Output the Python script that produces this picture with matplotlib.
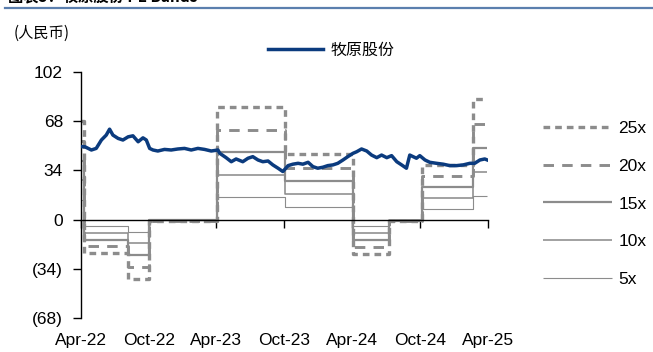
import matplotlib
matplotlib.use('Agg')
import matplotlib.pyplot as plt
import matplotlib.dates as mdates
from matplotlib.lines import Line2D
import pandas as pd

plt.rcParams['font.family'] = ['Liberation Sans', 'Noto Sans CJK SC', 'DejaVu Sans']

# ---------------- data ----------------
price_dates = [
    '2022-04-01', '2022-04-11', '2022-04-29', '2022-05-12', '2022-05-26', '2022-06-08',
    '2022-06-17', '2022-06-26', '2022-07-10', '2022-07-23', '2022-08-06', '2022-08-19',
    '2022-09-02', '2022-09-15', '2022-09-24', '2022-10-03', '2022-10-12', '2022-10-25',
    '2022-11-12', '2022-11-30', '2022-12-18', '2023-01-05', '2023-01-23', '2023-02-10',
    '2023-02-28', '2023-03-18', '2023-04-05', '2023-04-10', '2023-04-27', '2023-05-11',
    '2023-05-24', '2023-06-11', '2023-06-25', '2023-07-08', '2023-07-22', '2023-08-04',
    '2023-08-18', '2023-08-31', '2023-09-14', '2023-09-27', '2023-10-11', '2023-10-24',
    '2023-11-07', '2023-11-20', '2023-12-04', '2023-12-17', '2023-12-30', '2024-01-13',
    '2024-01-26', '2024-02-09', '2024-02-22', '2024-03-07', '2024-03-20', '2024-04-03',
    '2024-04-13', '2024-04-26', '2024-05-10', '2024-05-23', '2024-06-06', '2024-06-19',
    '2024-07-03', '2024-07-16', '2024-07-30', '2024-08-12', '2024-08-25', '2024-09-03',
    '2024-09-12', '2024-09-21', '2024-09-30', '2024-10-14', '2024-10-27', '2024-11-14',
    '2024-12-02', '2024-12-20', '2025-01-07', '2025-01-25', '2025-02-12', '2025-02-25',
    '2025-03-11', '2025-03-24', '2025-03-31',
]
price_values = [
    50.4, 50.4, 48.1, 49.2, 55.0, 58.4,
    62.5, 58.4, 56.1, 55.0, 57.2, 57.9,
    53.8, 56.5, 55.0, 49.2, 48.1, 47.4,
    48.5, 48.1, 48.8, 49.2, 48.1, 49.2,
    48.5, 47.4, 48.1, 45.8, 42.8, 40.0,
    41.9, 40.0, 42.4, 43.5, 41.2, 40.0,
    40.5, 37.8, 35.5, 33.2, 37.3, 38.3,
    38.9, 38.3, 39.6, 36.6, 35.5, 36.2,
    37.3, 37.8, 38.9, 41.2, 43.5, 45.8,
    46.9, 48.8, 47.4, 44.6, 42.8, 44.6,
    42.8, 44.2, 40.0, 37.8, 35.5, 44.6,
    43.5, 42.4, 44.2, 41.2, 39.6, 38.9,
    38.3, 37.3, 37.3, 37.8, 38.9, 38.9,
    41.2, 41.9, 41.2,
]

# EPS (RMB/share) per reporting period, start dates of each period
eps_dates = ['2022-04-01', '2022-04-08', '2022-08-06', '2022-10-02', '2023-04-02',
             '2023-10-03', '2024-04-04', '2024-07-09', '2024-10-05', '2025-02-21']
eps_values = [2.72, -0.92, -1.65, -0.04, 3.10, 1.80, -0.95, -0.05, 1.52, 3.32]
band_end = '2025-03-31'

multiples = [25, 20, 15, 10, 5]
band_labels = ['25x', '20x', '15x', '10x', '5x']
series_label = '牧原股份'

y_ticks = [-68, -34, 0, 34, 68, 102]
y_tick_labels = ['(68)', '(34)', '0', '34', '68', '102']
x_tick_dates = ['2022-04-01', '2022-10-01', '2023-04-01', '2023-10-01',
                '2024-04-01', '2024-10-01', '2025-04-01']
x_tick_labels = ['Apr-22', 'Oct-22', 'Apr-23', 'Oct-23', 'Apr-24', 'Oct-24', 'Apr-25']

title_text = '图表5：牧原股份 PE Bands'
unit_text = '(人民币)'

# ---------------- styles ----------------
W, H = 653, 352
GRAY = '#8c8c8c'
BLUE = '#0b3b7e'
band_styles = {
    25: dict(lw=2.4, dashes=(2.0, 1.5)),
    20: dict(lw=2.1, dashes=(3.6, 2.8)),
    15: dict(lw=1.6, dashes=None),
    10: dict(lw=1.15, dashes=None),
    5: dict(lw=0.8, dashes=None),
}

fig = plt.figure(figsize=(W / 100, H / 100), dpi=100)
ax = fig.add_axes([81 / W, 1 - 318 / H, (487.7 - 81) / W, (318 - 72) / H])

def to_num(lst):
    return mdates.date2num(pd.to_datetime(lst))

bx = to_num(eps_dates + [band_end])
handles = []
for m, lab in zip(multiples, band_labels):
    st = band_styles[m]
    yv = [e * m for e in eps_values] + [eps_values[-1] * m]
    ln, = ax.step(bx, yv, where='post', color=GRAY, lw=st['lw'], zorder=2,
                  solid_capstyle='butt', dash_capstyle='butt')
    if st['dashes']:
        ln.set_dashes(st['dashes'])
    handles.append(ln)

pl, = ax.plot(to_num(price_dates), price_values, color=BLUE, lw=2.5, zorder=4,
              solid_joinstyle='round')

ax.set_xlim(to_num(['2022-04-01'])[0], to_num(['2025-04-01'])[0])
ax.set_ylim(-68, 102)
ax.set_yticks(y_ticks)
ax.set_yticklabels(y_tick_labels, fontsize=12.5)
ax.tick_params(axis='y', direction='out', length=6, width=1, pad=7, colors='black')

for s in ['top', 'right']:
    ax.spines[s].set_visible(False)
ax.spines['left'].set_linewidth(1)
ax.spines['bottom'].set_position(('data', 0))
ax.spines['bottom'].set_linewidth(1)
ax.spines['bottom'].set_zorder(3)
xt = to_num(x_tick_dates)
ax.set_xticks(xt)
ax.tick_params(axis='x', direction='out', length=6, width=1, labelbottom=False)

sec = ax.secondary_xaxis(0.0)
sec.set_xticks(xt)
sec.set_xticklabels(x_tick_labels, fontsize=12.5)
sec.tick_params(axis='x', length=0, pad=11)
sec.spines['bottom'].set_visible(False)

# legends
leg1 = fig.legend([pl], [series_label], loc='center left',
                  bbox_to_anchor=(262 / W, 1 - 50 / H), frameon=False,
                  prop=dict(family=['Noto Sans CJK SC'], size=11.5),
                  handlelength=3.4, handletextpad=0.5, borderaxespad=0)
leg2 = fig.legend(handles, band_labels, loc='upper left',
                  bbox_to_anchor=(536 / W, 1 - 114 / H), frameon=False,
                  prop=dict(size=12.5), handlelength=3.95, handletextpad=0.4,
                  labelspacing=1.3, borderaxespad=0)

# title (cropped) and rule
fig.text(8 / W, 1 - 1 / H, title_text, fontsize=11, fontweight='bold',
         va='baseline', family=['Noto Sans CJK SC'])
fig.add_artist(Line2D([5 / W, 1], [1 - 7.5 / H] * 2, transform=fig.transFigure,
                      color='#5b7fae', lw=1.6))
fig.text(14 / W, 1 - 33 / H, unit_text, fontsize=11, va='center',
         family=['Noto Sans CJK SC'])

fig.savefig('out.png', dpi=100)
